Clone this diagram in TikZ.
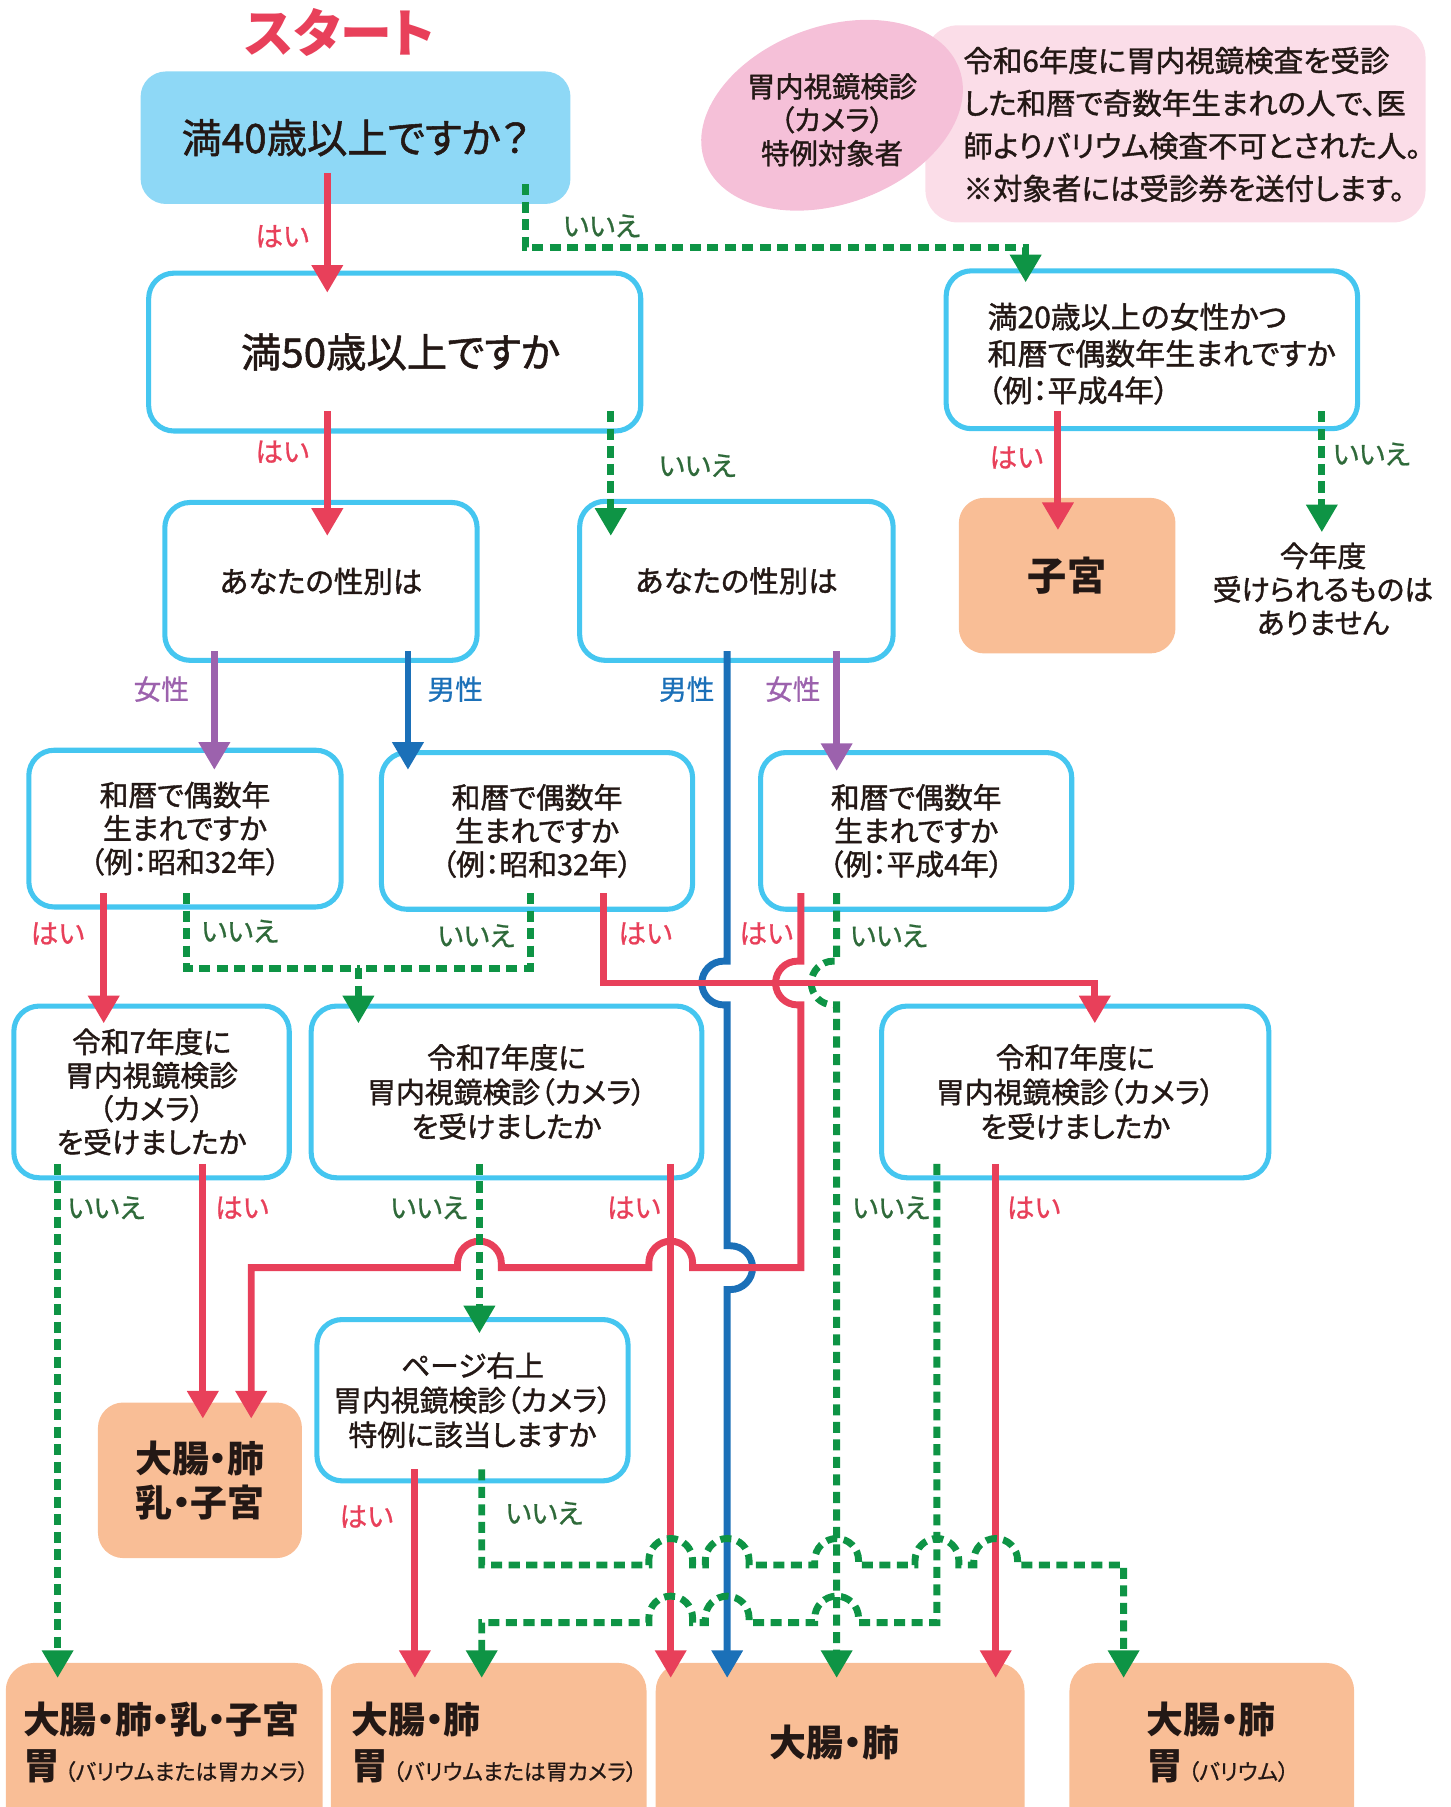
\documentclass[tikz,border=0pt]{standalone}
\usepackage{fontspec}
\setmainfont{Noto Sans CJK JP}[RawFeature=+palt]
\newfontfamily\jpm{Noto Sans CJK JP}[RawFeature=+palt,FakeBold=1.3]
\newfontfamily\jpl{Noto Sans CJK JP}[RawFeature=+palt,FakeBold=0.8]
\usetikzlibrary{arrows.meta,shapes.geometric,calc}
\newcommand\jfs[2]{\fontsize{#1pt}{#2pt}\selectfont}
\definecolor{cyb}{HTML}{45C6F0}
\definecolor{topfill}{HTML}{8ED8F6}
\definecolor{rd}{HTML}{E8405A}
\definecolor{gr}{HTML}{0E9445}
\definecolor{grt}{HTML}{2F6A3A}
\definecolor{pu}{HTML}{9C62AD}
\definecolor{bl}{HTML}{1B70B8}
\definecolor{org}{HTML}{F9BE96}
\definecolor{pkE}{HTML}{F5C0D8}
\definecolor{pkR}{HTML}{FBDDE8}
\definecolor{ink}{HTML}{231815}
\tikzset{
  every node/.style={inner sep=0pt,outer sep=0pt,text=ink},
  qbox/.style={draw=cyb,line width=2.2pt,fill=white,rounded corners=11pt,align=center},
  obox/.style={fill=org,rounded corners=11pt,align=center},
  ln/.style={line width=3pt},
  tip/.style={-{Triangle[width=13pt,length=12pt]}},
  rl/.style={ln,draw=rd},
  gl/.style={ln,draw=gr,dash pattern=on 4.8pt off 2.8pt},
  bll/.style={ln,draw=bl},
  pl/.style={ln,draw=pu},
  yes/.style={text=rd,font=\jpl\jfs{12}{14}},
  no/.style={text=grt,font=\jpl\jfs{12}{14}},
  fem/.style={text=pu,font=\jpl\jfs{12}{14}},
  mal/.style={text=bl,font=\jpl\jfs{12}{14}},
  bigt/.style={font=\bfseries\jfs{16}{19}},
  smt/.style={font=\jpl\jfs{9.5}{11},anchor=base west},
}
\begin{document}
\begin{tikzpicture}[x=0.5pt,y=-0.5pt]
\useasboundingbox (0,0) rectangle (1259,1568);
\clip (0,0) rectangle (1259,1568);

% title and info
\node[text=rd,font=\bfseries\jfs{22.5}{26}] (title) at (295,28) {スタート};
\node[fill=pkR,rounded corners=14pt,minimum width=217pt,minimum height=85.5pt] (pr) at (1020,107.5) {};
\node[ellipse,fill=pkE,minimum width=117.5pt,minimum height=77pt,rotate=20] (ell) at (722,100) {};
\node[align=center,font=\jpm\jfs{12.3}{14.5}] (elt) at (722,104) {胃内視鏡検診\\（カメラ）\\特例対象者};
\node[anchor=west,align=left,font=\jpm\jfs{12.8}{18.5}] (prt) at (836,108) {令和6年度に胃内視鏡検査を受診\\した和暦で奇数年生まれの人で、医\\師よりバリウム検査不可とされた人。\\※対象者には受診券を送付します。};

% question boxes
\node[fill=topfill,rounded corners=11pt,minimum width=186.5pt,minimum height=57.5pt,font=\jpm\jfs{17.5}{21}] (A) at (308.5,119.5) {満40歳以上ですか？};
\node[qbox,minimum width=213.5pt,minimum height=68.5pt,font=\jpm\jfs{17.5}{21}] (B) at (342.5,305.5) {\hspace*{5pt}満50歳以上ですか};
\node[qbox,minimum width=178.5pt,minimum height=68.5pt] (C) at (999.5,303.5) {};
\node[anchor=west,align=left,font=\jpm\jfs{13}{16}] (Ct) at (857,307) {満20歳以上の女性かつ\\和暦で偶数年生まれですか\\（例：平成4年）};
\node[obox,minimum width=94pt,minimum height=67.5pt,font=\bfseries\jfs{17}{20}] (U) at (926,499.5) {子宮};
\node[align=center,font=\jpm\jfs{12.5}{14.5}] (none) at (1148,511) {今年度\\受けられるものは\\ありません};
\node[qbox,minimum width=135.5pt,minimum height=68.5pt,font=\jpm\jfs{12.8}{15}] (D) at (278.5,504.5) {あなたの性別は};
\node[qbox,minimum width=136pt,minimum height=69pt,font=\jpm\jfs{12.8}{15}] (E) at (639,504) {あなたの性別は};
\node[qbox,minimum width=135.5pt,minimum height=68pt,font=\jpm\jfs{12.5}{14.5}] (F) at (160.5,719) {和暦で偶数年\\生まれですか\\（例：昭和32年）};
\node[qbox,minimum width=135pt,minimum height=68pt,font=\jpm\jfs{12.5}{14.5}] (G) at (466,721) {和暦で偶数年\\生まれですか\\（例：昭和32年）};
\node[qbox,minimum width=135pt,minimum height=68pt,font=\jpm\jfs{12.5}{14.5}] (H) at (795,721) {和暦で偶数年\\生まれですか\\（例：平成4年）};
\node[qbox,minimum width=119.5pt,minimum height=74.5pt,font=\jpm\jfs{12.5}{14.5}] (I) at (131.5,947.5) {令和7年度に\\胃内視鏡検診\\（カメラ）\\を受けましたか};
\node[qbox,minimum width=169.5pt,minimum height=74.5pt,font=\jpm\jfs{12.5}{15}] (J) at (439.5,947.5) {令和7年度に\\胃内視鏡検診（カメラ）\\を受けましたか};
\node[qbox,minimum width=168pt,minimum height=74.5pt,font=\jpm\jfs{12.5}{15}] (K) at (933,947.5) {令和7年度に\\胃内視鏡検診（カメラ）\\を受けましたか};
\node[qbox,minimum width=135pt,minimum height=70pt,font=\jpm\jfs{12.5}{15}] (L) at (410,1215) {ページ右上\\胃内視鏡検診（カメラ）\\特例に該当しますか};
\node[obox,minimum width=88.5pt,minimum height=67.5pt,font=\bfseries\jfs{16}{19}] (Q) at (173.5,1284.5) {大腸・肺\\乳・子宮};

% result boxes
\node[obox,rounded corners=12pt,minimum width=137.5pt,minimum height=98.5pt] (P) at (142.5,1541.5) {};
\node[obox,rounded corners=12pt,minimum width=137pt,minimum height=98.5pt] (S) at (424,1541.5) {};
\node[obox,rounded corners=12pt,minimum width=160pt,minimum height=98.5pt] (R) at (729,1541.5) {};
\node[obox,rounded corners=12pt,minimum width=123.5pt,minimum height=98.5pt] (T) at (1051.5,1541.5) {};
\node[bigt,anchor=west] (Pt1) at (20,1492) {大腸・肺・乳・子宮};
\node[bigt,anchor=west] (Pt2) at (20,1533) {胃};
\node[smt] (Pt3) at ([xshift=2pt]Pt2.base east) {（バリウムまたは胃カメラ）};
\node[bigt,anchor=west] (St1) at (305,1492) {大腸・肺};
\node[bigt,anchor=west] (St2) at (305,1533) {胃};
\node[smt] (St3) at ([xshift=2pt]St2.base east) {（バリウムまたは胃カメラ）};
\node[bigt] (Rt) at (724,1512) {大腸・肺};
\node[bigt,anchor=west] (Tt1) at (995,1492) {大腸・肺};
\node[bigt,anchor=west] (Tt2) at (995,1533) {胃};
\node[smt] (Tt3) at ([xshift=2pt]Tt2.base east) {（バリウム）};

% connectors
\draw[rl,tip] ($(A.south -| 284,0)+(0,-27)$) -- ($(B.north -| 284,0)+(0,17)$);
\draw[gl,tip] ($(A.south -| 456,0)+(0,-17)$) -- (456,215) -- (890,215) -- ($(C.north -| 890,0)+(0,10)$);
\draw[rl,tip] ($(B.south -| 284,0)+(0,-17)$) -- ($(D.north -| 284,0)+(0,29)$);
\draw[gl,tip] ($(B.south -| 530,0)+(0,-17)$) -- ($(E.north -| 530,0)+(0,30)$);
\draw[rl,tip] ($(C.south -| 918,0)+(0,-15)$) -- ($(U.north -| 918,0)+(0,28)$);
\draw[gl,tip] ($(C.south -| 1147,0)+(0,-15)$) -- ($(none.north -| 1147,0)+(0,-9)$);
\draw[pl,tip] ($(D.south -| 186,0)+(0,-8)$) -- ($(F.north -| 186,0)+(0,17)$);
\draw[bll,tip] ($(D.south -| 354,0)+(0,-8)$) -- ($(G.north -| 354,0)+(0,15)$);
\draw[pl,tip] ($(E.south -| 726,0)+(0,-8)$) -- ($(H.north -| 726,0)+(0,16)$);
\draw[bll,tip] ($(E.south -| 631,0)+(0,-8)$) -- (631,834) -- (628,834) arc[start angle=-90,end angle=-270,radius=19] -- (631,872) -- (631,1081) -- (634,1081) arc[start angle=-90,end angle=90,radius=19] -- (631,1119) -- ($(R.north -| 631,0)+(0,13)$);
\draw[rl,tip] ($(F.south -| 90,0)+(0,-12)$) -- ($(I.north -| 90,0)+(0,15)$);
\coordinate (jn) at (311,840);
\draw[gl] ($(F.south -| 162,0)+(0,-12)$) |- (jn);
\draw[gl] ($(G.south -| 460,0)+(0,-14)$) |- (jn);
\draw[gl,tip] (jn) -- ($(J.north -| 311,0)+(0,15)$);
\draw[rl,tip] ($(H.south -| 695,0)+(0,-14)$) -- (695,834) -- (692,834) arc[start angle=-90,end angle=-270,radius=19] -- (695,872) -- (695,1100) -- (601,1100) -- (601,1096) arc[start angle=0,end angle=-180,radius=19] -- (563,1100) -- (435,1100) -- (435,1096) arc[start angle=0,end angle=-180,radius=19] -- (397,1100) -- (218,1100) -- ($(Q.north -| 218,0)+(0,14)$);
\draw[gl,tip] ($(H.south -| 726,0)+(0,-14)$) -- (726,834) -- (723,834) arc[start angle=-90,end angle=-270,radius=19] -- (726,872) -- ($(R.north -| 726,0)+(0,13)$);
\draw[rl,tip] ($(G.south -| 524,0)+(0,-14)$) -- (524,853) -- (950,853) -- ($(K.north -| 950,0)+(0,15)$);
\draw[gl,tip] ($(I.south -| 50,0)+(0,-12)$) -- ($(P.north -| 50,0)+(0,13)$);
\draw[rl,tip] ($(I.south -| 176,0)+(0,-12)$) -- ($(Q.north -| 176,0)+(0,14)$);
\draw[gl,tip] ($(J.south -| 416,0)+(0,-12)$) -- ($(L.north -| 416,0)+(0,12)$);
\draw[rl,tip] ($(J.south -| 582,0)+(0,-12)$) -- ($(R.north -| 582,0)+(0,13)$);
\draw[rl,tip] ($(K.south -| 864,0)+(0,-12)$) -- ($(R.north -| 864,0)+(0,13)$);
\draw[gl,tip] ($(K.south -| 813,0)+(0,-12)$) -- (813,1408) -- (745,1408) -- (745,1404) arc[start angle=0,end angle=-180,radius=19] -- (707,1408) -- (650,1408) -- (650,1404) arc[start angle=0,end angle=-180,radius=19] -- (612,1408) -- (601,1408) -- (601,1404) arc[start angle=0,end angle=-180,radius=19] -- (563,1408) -- (418,1408) -- ($(S.north -| 418,0)+(0,13)$);
\draw[rl,tip] ($(L.south -| 360,0)+(0,-10)$) -- ($(S.north -| 360,0)+(0,13)$);
\draw[gl,tip] ($(L.south -| 418,0)+(0,-10)$) -- (418,1358) -- (563,1358) -- (563,1354) arc[start angle=180,end angle=360,radius=19] -- (601,1358) -- (612,1358) -- (612,1354) arc[start angle=180,end angle=360,radius=19] -- (650,1358) -- (707,1358) -- (707,1354) arc[start angle=180,end angle=360,radius=19] -- (745,1358) -- (794,1358) -- (794,1354) arc[start angle=180,end angle=360,radius=19] -- (832,1358) -- (845,1358) -- (845,1354) arc[start angle=180,end angle=360,radius=19] -- (883,1358) -- (975,1358) -- ($(T.north -| 975,0)+(0,13)$);

% labels
\node[yes] (y1) at (245,205) {はい};
\node[yes] (y2) at (245,392) {はい};
\node[yes] (y3) at (882,397) {はい};
\node[yes] (y4) at (50,810) {はい};
\node[yes] (y5) at (560,810) {はい};
\node[yes] (y6) at (665,810) {はい};
\node[yes] (y7) at (210,1048) {はい};
\node[yes] (y8) at (550,1048) {はい};
\node[yes] (y9) at (897,1048) {はい};
\node[yes] (y10) at (318,1316) {はい};
\node[no] (n1) at (522,196) {いいえ};
\node[no] (n2) at (605,404) {いいえ};
\node[no] (n3) at (1190,394) {いいえ};
\node[no] (n4) at (208,808) {いいえ};
\node[no] (n5) at (413,812) {いいえ};
\node[no] (n6) at (771,812) {いいえ};
\node[no] (n7) at (92,1048) {いいえ};
\node[no] (n8) at (372,1048) {いいえ};
\node[no] (n9) at (773,1048) {いいえ};
\node[no] (n10) at (472,1313) {いいえ};
\node[fem] (f1) at (140,598) {女性};
\node[fem] (f2) at (688,598) {女性};
\node[mal] (m1) at (395,598) {男性};
\node[mal] (m2) at (596,598) {男性};
\end{tikzpicture}
\end{document}
